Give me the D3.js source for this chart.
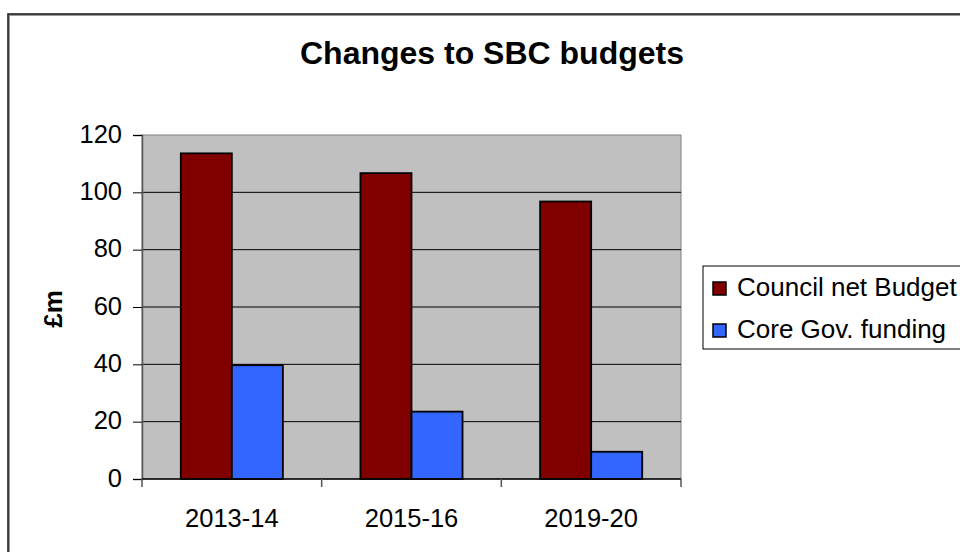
<!DOCTYPE html>
<html>
<head>
<meta charset="utf-8">
<script src="https://cdn.jsdelivr.net/npm/d3@7"></script>
<style>
  body { margin: 0; background: #fff; }
  svg { display: block; font-family: "Liberation Sans", Arial, sans-serif; }
</style>
</head>
<body>
<svg id="chart" width="960" height="552"></svg>
<script>
// Chart data
let categories = ['2013-14', '2015-16', '2019-20'];
let seriesNames = ['Council net Budget', 'Core Gov. funding'];
let councilBudget = [113.6, 106.7, 96.8];
let coreFunding = [39.7, 23.5, 9.5];
let yTicks = [0, 20, 40, 60, 80, 100, 120];
let seriesColors = ['#800000', '#3366ff'];

// Build row objects for the bars
let rows = categories.map((c, i) => ({
    cat: c,
    values: [
        { name: seriesNames[0], value: councilBudget[i] },
        { name: seriesNames[1], value: coreFunding[i] }
    ]
}));

let svg = d3.select('#chart');

// Plot area
let plot = { left: 142, right: 681, top: 135, bottom: 479 };

// Outer frame of the chart (cropped at right and bottom)
svg.append('rect')
    .attr('x', 9).attr('y', 15)
    .attr('width', 1000).attr('height', 600)
    .attr('fill', 'none')
    .attr('stroke', '#999')
    .attr('stroke-width', 2);
svg.append('rect')
    .attr('x', 8).attr('y', 14)
    .attr('width', 1000).attr('height', 600)
    .attr('fill', 'none')
    .attr('stroke', '#222')
    .attr('stroke-width', 1.6);

// Scales
let x0 = d3.scaleBand()
    .domain(categories)
    .range([plot.left, plot.right])
    .padding(0);

let x1 = d3.scaleBand()
    .domain(seriesNames)
    .range([0, x0.bandwidth()])
    .paddingInner(0)
    .paddingOuter(0.76);

let y = d3.scaleLinear()
    .domain([0, 120])
    .range([plot.bottom, plot.top]);

let color = d3.scaleOrdinal().domain(seriesNames).range(seriesColors);

// Grey plot background
svg.append('rect')
    .attr('x', plot.left).attr('y', plot.top)
    .attr('width', plot.right - plot.left)
    .attr('height', plot.bottom - plot.top)
    .attr('fill', '#c0c0c0')
    .attr('stroke', '#808080')
    .attr('stroke-width', 1);

// Gridlines
svg.append('g')
    .selectAll('line')
    .data(yTicks.filter(d => d > 0 && d < 120))
    .join('line')
    .attr('x1', plot.left).attr('x2', plot.right)
    .attr('y1', d => y(d)).attr('y2', d => y(d))
    .attr('stroke', '#000')
    .attr('stroke-width', 1);

// Y axis
let yAxis = svg.append('g')
    .attr('transform', `translate(${plot.left},0)`)
    .call(d3.axisLeft(y).tickValues(yTicks).tickSize(9).tickPadding(0).tickFormat(d3.format('d')));
yAxis.select('.domain').attr('stroke', '#555').attr('stroke-width', 1.5);
yAxis.selectAll('.tick line').attr('stroke', '#000');
yAxis.selectAll('.tick text')
    .attr('x', -20)
    .attr('dy', null)
    .attr('y', 7)
    .attr('font-size', 25.5)
    .attr('fill', '#000')
    .attr('font-family', '"Liberation Sans", Arial, sans-serif');

// Bars
let groups = svg.append('g')
    .selectAll('g')
    .data(rows)
    .join('g')
    .attr('transform', d => `translate(${x0(d.cat)},0)`);

groups.selectAll('rect')
    .data(d => d.values)
    .join('rect')
    .attr('x', d => x1(d.name))
    .attr('y', d => y(d.value))
    .attr('width', x1.bandwidth())
    .attr('height', d => y(0) - y(d.value))
    .attr('fill', d => color(d.name))
    .attr('stroke', '#000')
    .attr('stroke-width', 1.8);

// X axis
let boundaries = categories.map(c => x0(c)).concat([plot.right]);
let xAxis = svg.append('g');
xAxis.append('line')
    .attr('x1', plot.left).attr('x2', plot.right)
    .attr('y1', plot.bottom).attr('y2', plot.bottom)
    .attr('stroke', '#000')
    .attr('stroke-width', 1.5);
xAxis.selectAll('line.tk')
    .data(boundaries)
    .join('line')
    .attr('class', 'tk')
    .attr('x1', d => d).attr('x2', d => d)
    .attr('y1', plot.bottom).attr('y2', plot.bottom + 8)
    .attr('stroke', '#555')
    .attr('stroke-width', 1.5);
xAxis.selectAll('text')
    .data(categories)
    .join('text')
    .attr('x', d => x0(d) + x0.bandwidth() / 2)
    .attr('y', 527)
    .attr('text-anchor', 'middle')
    .attr('font-size', 25.5)
    .text(d => d);

// Title
svg.append('text')
    .attr('x', 492)
    .attr('y', 64)
    .attr('text-anchor', 'middle')
    .attr('font-size', 32)
    .attr('font-weight', 'bold')
    .text('Changes to SBC budgets');

// Y axis title
svg.append('text')
    .attr('transform', 'translate(62,309) rotate(-90)')
    .attr('text-anchor', 'middle')
    .attr('font-size', 26)
    .attr('font-weight', 'bold')
    .text('£m');

// Legend
let legend = svg.append('g').attr('transform', 'translate(703,266)');
legend.append('rect')
    .attr('x', 0).attr('y', 0)
    .attr('width', 300).attr('height', 83)
    .attr('fill', '#fff')
    .attr('stroke', '#000')
    .attr('stroke-width', 1);

let items = legend.selectAll('g.item')
    .data(seriesNames)
    .join('g')
    .attr('class', 'item')
    .attr('transform', (d, i) => `translate(0,${22 + i * 42})`);
items.append('rect')
    .attr('x', 10).attr('y', -6)
    .attr('width', 13).attr('height', 13)
    .attr('fill', d => color(d))
    .attr('stroke', '#000')
    .attr('stroke-width', 1.5);
items.append('text')
    .attr('x', 34)
    .attr('y', 8)
    .attr('font-size', 26)
    .text(d => d);
</script>
</body>
</html>
